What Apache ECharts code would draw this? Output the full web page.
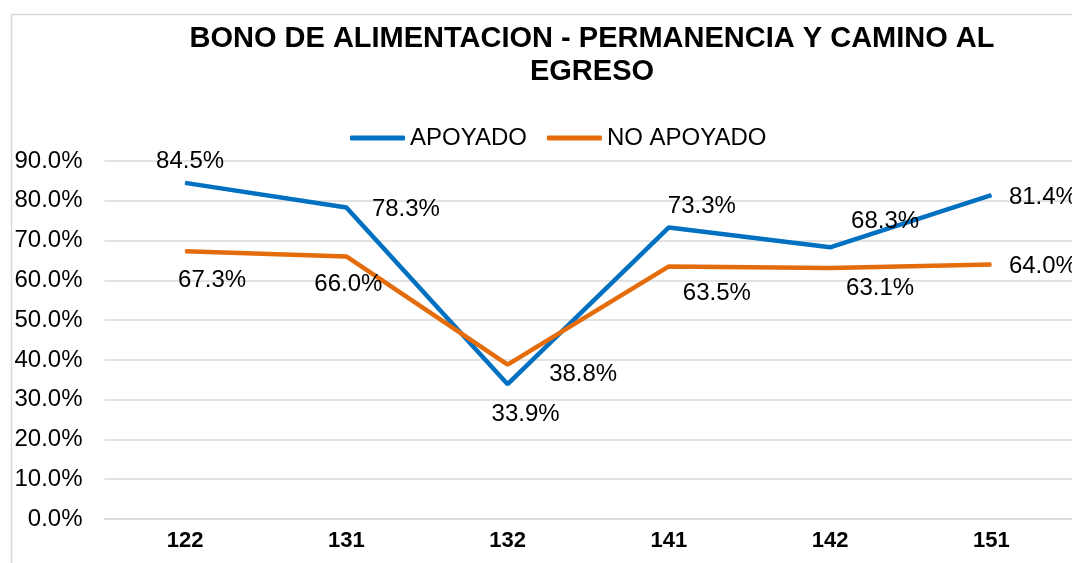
<!DOCTYPE html>
<html>
<head>
<meta charset="utf-8">
<script src="https://cdn.jsdelivr.net/npm/echarts@6/dist/echarts.min.js"></script>
<style>
  html, body { margin: 0; padding: 0; background: #fff; }
  #chart { width: 1072px; height: 563px; }
</style>
</head>
<body>
<div id="chart"></div>
<script>
const categories = ['122', '131', '132', '141', '142', '151'];
const apoyado = [84.5, 78.3, 33.9, 73.3, 68.3, 81.4];
const noApoyado = [67.3, 66.0, 38.8, 63.5, 63.1, 64.0];
const yTicks = [0, 10, 20, 30, 40, 50, 60, 70, 80, 90];

// donde va cada etiqueta (como en la hoja original)
const apoyadoLabelPos = ['top', 'right', 'bottom', 'top', 'top', 'right'];
const apoyadoLabelOffset = [[5, -1], [17, 2], [18, 10], [33, -1], [55, -5], [9, 2]];
const noApoyadoLabelPos = ['bottom', 'bottom', 'right', 'bottom', 'bottom', 'right'];
const noApoyadoLabelOffset = [[27, 9], [2, 7], [33, 10], [48, 6], [50, 0], [9, 2]];

const FONT = '"Liberation Sans", Arial, sans-serif';

function buildData(values, pos, offset) {
    return values.map((v, i) => ({
        value: v,
        label: { position: pos[i], offset: offset[i] }
    }));
}

const chart = echarts.init(document.getElementById('chart'));

const labelStyle = {
    show: true,
    fontFamily: FONT,
    fontSize: 24,
    color: '#000',
    distance: 8,
    formatter: (p) => p.value.toFixed(1) + '%'
};

const option = {
    backgroundColor: '#fff',
    animation: false,
    textStyle: { fontFamily: FONT },
    title: {
        text: 'BONO DE ALIMENTACION - PERMANENCIA Y CAMINO AL\nEGRESO',
        left: 587,
        top: 17,
        textAlign: 'center',
        textStyle: {
            fontFamily: FONT,
            fontSize: 29,
            fontWeight: 'bold',
            color: '#000',
            lineHeight: 33
        }
    },
    legend: {
        left: 345,
        top: 121,
        itemWidth: 55,
        itemHeight: 5,
        itemGap: 20,
        textStyle: { fontFamily: FONT, fontSize: 24, color: '#000' },
        data: [
            { name: 'APOYADO', icon: 'roundRect' },
            { name: 'NO APOYADO', icon: 'roundRect' }
        ]
    },
    graphic: [{
        type: 'rect',
        shape: { x: 11.5, y: 14.5, width: 1200, height: 700 },
        style: { fill: 'none', stroke: '#D9D9D9', lineWidth: 1.5 },
        silent: true
    }],
    grid: {
        left: 104.5,
        right: -10,
        top: 161,
        bottom: 44
    },
    xAxis: {
        type: 'category',
        data: categories,
        axisTick: { show: false },
        axisLine: { lineStyle: { color: '#D9D9D9', width: 1.5 } },
        axisLabel: {
            fontFamily: FONT,
            fontSize: 22,
            fontWeight: 'bold',
            color: '#000',
            margin: 11
        }
    },
    yAxis: {
        type: 'value',
        min: yTicks[0],
        max: yTicks[yTicks.length - 1],
        interval: 10,
        axisLine: { show: false },
        axisTick: { show: false },
        splitLine: { lineStyle: { color: '#D9D9D9', width: 1.5 } },
        axisLabel: {
            fontFamily: FONT,
            fontSize: 24,
            color: '#000',
            margin: 22,
            formatter: (v) => v.toFixed(1) + '%'
        }
    },
    series: [
        {
            name: 'APOYADO',
            type: 'line',
            symbol: 'circle',
            symbolSize: 1,
            color: '#0070C0',
            lineStyle: { width: 4.5, color: '#0070C0' },
            label: labelStyle,
            data: buildData(apoyado, apoyadoLabelPos, apoyadoLabelOffset)
        },
        {
            name: 'NO APOYADO',
            type: 'line',
            symbol: 'circle',
            symbolSize: 1,
            color: '#E46C0A',
            lineStyle: { width: 4.5, color: '#E46C0A' },
            label: labelStyle,
            data: buildData(noApoyado, noApoyadoLabelPos, noApoyadoLabelOffset)
        }
    ]
};

chart.setOption(option);
</script>
</body>
</html>
